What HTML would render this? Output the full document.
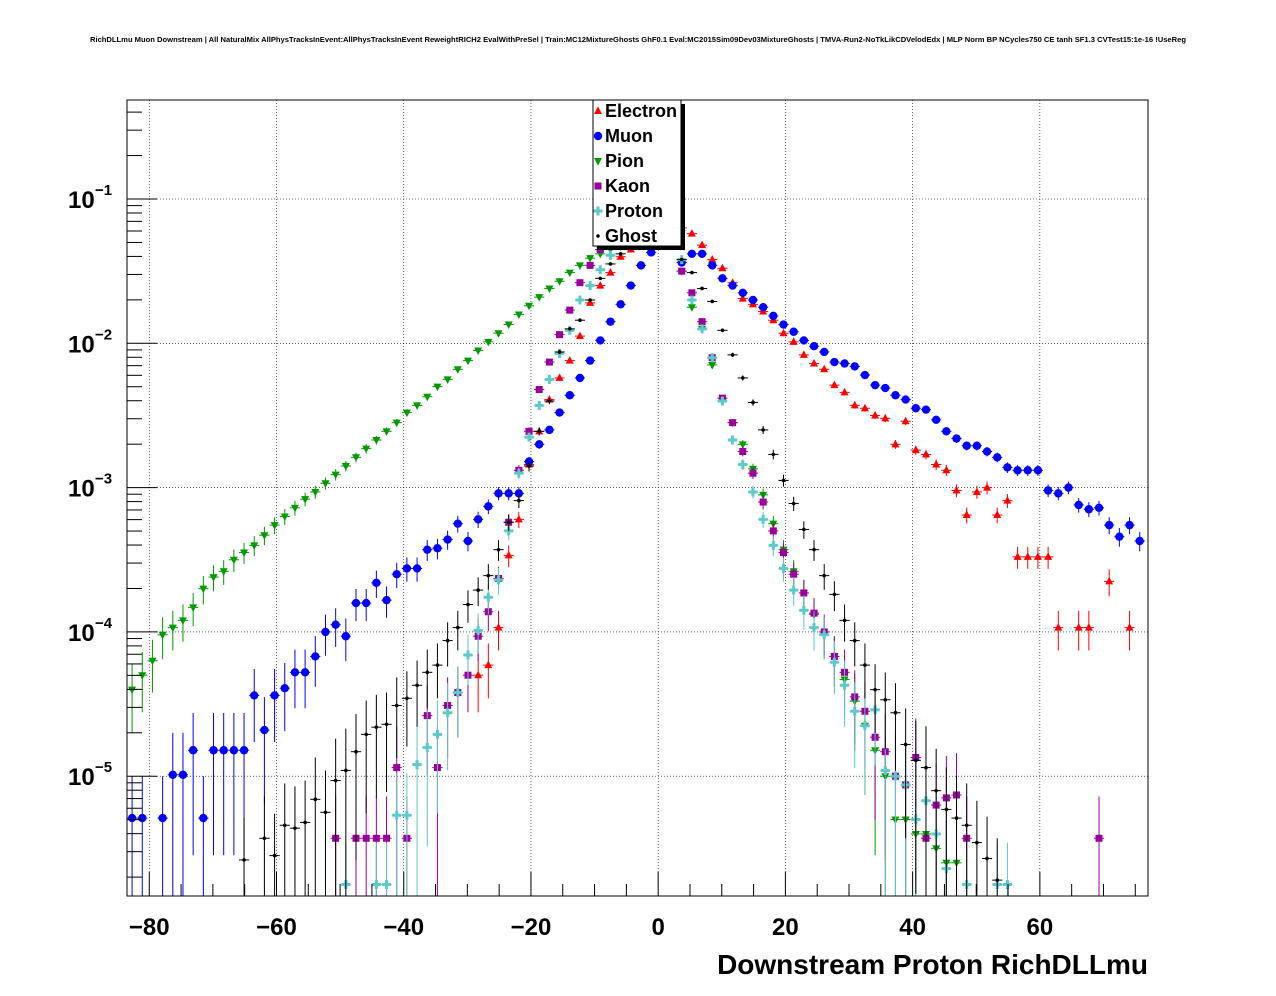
<!DOCTYPE html>
<html><head><meta charset="utf-8">
<style>
html,body{margin:0;padding:0;background:#fff;}
svg{display:block;font-family:"Liberation Sans",sans-serif;}
</style></head>
<body>
<svg id="chart" width="1276" height="996" viewBox="0 0 1276 996" xmlns="http://www.w3.org/2000/svg">
<rect width="1276" height="996" fill="#fff"/>
<text x="638" y="42" font-size="7.6" font-weight="bold" text-anchor="middle">RichDLLmu Muon Downstream | All NaturalMix AllPhysTracksInEvent:AllPhysTracksInEvent ReweightRICH2 EvalWithPreSel | Train:MC12MixtureGhosts GhF0.1 Eval:MC2015Sim09Dev03MixtureGhosts | TMVA-Run2-NoTkLikCDVelodEdx | MLP Norm BP NCycles750 CE tanh SF1.3 CVTest15:1e-16 !UseReg</text>
<g id="grid"></g>
<g id="series"></g>
<rect x="127" y="100" width="1021" height="796" fill="none" stroke="#000" stroke-width="1"/>
<g id="axes"></g>
<text x="1148" y="974" font-size="28" font-weight="bold" text-anchor="end">Downstream Proton RichDLLmu</text>
<g id="legend"></g>
</svg>
<script>
// bin centers (DLL units)
const binCount = 100;
const binStart = -82.7, binWidth = 1.6;
const xTicks = [-80, -60, -40, -20, 0, 20, 40, 60];
const xTickLabels = ["\u221280", "\u221260", "\u221240", "\u221220", "0", "20", "40", "60"];
const yDecades = [-1, -2, -3, -4, -5];
const yTickLabels = ["10", "10", "10", "10", "10"];
const yTickExps = ["\u22121", "\u22122", "\u22123", "\u22124", "\u22125"];
const seriesNames = ["Electron", "Muon", "Pion", "Kaon", "Proton", "Ghost"];
const N = null;
// log10 of normalized entries per bin (null = empty)
const electronLog = [N,N,N,N,N,N,N,N,N,N, N,N,N,N,N,N,N,N,N,N, N,N,N,N,N,N,N,N,N,N, N,N,N,N,-4.3,-4.23,-3.97,-3.47,-3.22,-2.84,
 -2.61,-2.39,-2.24,-2.12,-1.95,-1.72,-1.6,-1.51,-1.4,-1.35, -1.3,-1.25,-1.2,-1.15,-1.2,-1.24,-1.32,-1.42,-1.48,-1.58,
 -1.69,-1.73,-1.78,-1.84,-1.93,-1.99,-2.08,-2.14,-2.18,-2.29, -2.34,-2.43,-2.45,-2.5,-2.52,-2.7,-2.54,-2.74,-2.77,-2.84,
 -2.88,-3.02,-3.19,-3.03,-3.0,-3.19,-3.09,-3.48,-3.48,-3.48, -3.48,-3.97,N,-3.97,-3.97,N,-3.65,N,-3.97,N];
const muonLog = [-5.29,-5.29,N,-5.29,-4.99,-4.99,-4.82,-5.29,-4.82,-4.82, -4.82,-4.82,-4.44,-4.68,-4.44,-4.39,-4.28,-4.28,-4.17,-4.0,
 -3.95,-4.03,-3.8,-3.8,-3.66,-3.78,-3.6,-3.56,-3.56,-3.43, -3.42,-3.36,-3.25,-3.37,-3.22,-3.13,-3.04,-3.04,-3.04,-2.82,
 -2.7,-2.6,-2.48,-2.36,-2.24,-2.12,-1.98,-1.85,-1.73,-1.6, -1.46,-1.37,-1.3,-1.3,-1.44,-1.38,-1.38,-1.46,-1.55,-1.6,
 -1.65,-1.7,-1.75,-1.81,-1.87,-1.92,-1.98,-2.02,-2.06,-2.13, -2.14,-2.16,-2.22,-2.29,-2.31,-2.36,-2.39,-2.45,-2.46,-2.53,
 -2.61,-2.66,-2.71,-2.71,-2.75,-2.79,-2.86,-2.88,-2.88,-2.88, -3.02,-3.04,-3.0,-3.12,-3.15,-3.14,-3.26,-3.34,-3.26,-3.37];
const pionLog = [-4.4,-4.3,-4.2,-4.02,-3.97,-3.92,-3.83,-3.7,-3.62,-3.58, -3.5,-3.45,-3.4,-3.33,-3.26,-3.2,-3.14,-3.08,-3.03,-2.97,
 -2.91,-2.85,-2.79,-2.73,-2.67,-2.61,-2.55,-2.48,-2.43,-2.37, -2.3,-2.25,-2.18,-2.12,-2.05,-1.99,-1.93,-1.87,-1.8,-1.74,
 -1.68,-1.62,-1.57,-1.51,-1.46,-1.41,-1.38,-1.35,-1.33,-1.32, -1.32,-1.3,-1.3,-1.32,-1.5,-1.75,-1.9,-2.15,-2.4,-2.55,
 -2.7,-2.87,-3.05,-3.25,-3.43,-3.58,-3.73,-3.88,-4.02,-4.17, -4.33,-4.48,-4.65,-4.82,-5.0,-5.3,-5.3,-5.4,-5.4,-5.5,
 -5.6,-5.6,N,N,N,N,N,N,N,N, N,N,N,N,N,N,N,N,N,N];
const kaonLog = [N,N,N,N,N,N,N,N,N,N, N,N,N,N,N,N,N,N,N,N, -5.43,N,-5.43,-5.43,-5.43,-5.43,-4.94,-5.43,N,-4.58,
 -4.94,-4.51,-4.42,-4.3,-4.03,-3.86,-3.63,-3.24,-2.88,-2.61, -2.32,-2.13,-1.94,-1.77,-1.58,-1.46,-1.35,-1.28,-1.25,-1.22,
 -1.2,-1.2,-1.22,-1.3,-1.5,-1.65,-1.85,-2.1,-2.38,-2.55, -2.75,-2.9,-3.1,-3.3,-3.45,-3.6,-3.73,-3.87,-4.0,-4.17,
 -4.28,-4.45,-4.55,-4.73,-4.83,-5.0,-5.06,-4.87,-5.43,-5.2, -5.15,-5.13,-5.43,N,N,N,N,N,N,N, N,N,N,N,N,-5.43,N,N,N,N];
const protonLog = [N,N,N,N,N,N,N,N,N,N, N,N,N,N,N,N,N,N,N,N, N,-5.75,N,N,-5.75,-5.75,-5.27,-5.27,-4.92,-4.8,
 -4.71,-4.56,-4.42,-4.16,-3.99,-3.76,-3.64,-3.3,-2.9,-2.65, -2.43,-2.25,-2.07,-1.91,-1.7,-1.6,-1.49,-1.39,-1.32,-1.28,
 -1.26,-1.25,-1.26,-1.3,-1.42,-1.7,-1.9,-2.1,-2.4,-2.67, -2.84,-3.03,-3.22,-3.4,-3.56,-3.71,-3.85,-3.97,-4.02,-4.21,
 -4.37,-4.55,-4.65,-4.54,-4.96,-5.0,-5.06,-5.3,-5.17,-5.4, -5.64,N,-5.75,N,N,-5.75,-5.75,N,N,N, N,N,N,N,N,N,N,N,N,N];
const ghostLog = [N,N,N,N,N,N,N,N,N,N, N,-5.58,N,-5.43,-5.55,-5.34,-5.36,-5.32,-5.16,-5.25,
 -5.03,-4.96,-4.83,-4.71,-4.66,-4.64,-4.51,-4.46,-4.37,-4.28, -4.23,-4.06,-3.97,-3.81,-3.71,-3.61,-3.43,-3.24,-3.09,-2.85,
 -2.61,-2.4,-2.06,-1.9,-1.84,-1.7,-1.55,-1.45,-1.38,-1.33, -1.3,-1.3,-1.3,-1.33,-1.42,-1.51,-1.62,-1.71,-1.91,-2.08,
 -2.24,-2.41,-2.6,-2.77,-2.95,-3.11,-3.29,-3.43,-3.61,-3.74, -3.92,-4.06,-4.23,-4.4,-4.47,-4.56,-4.78,-4.89,-4.94,-5.1,
 -5.23,-5.29,-5.34,-5.46,-5.57,-5.72,N,N,N,N, N,N,N,N,N,N,N,N,N,N];

const NS = "http://www.w3.org/2000/svg";
const X0 = 127, X1 = 1148, Y0 = 100, Y1 = 896;
const xMin = -83.5, xMax = 77.0;
const yLogMin = -5.83, yLogMax = -0.314;
const xScale = v => X0 + (v - xMin) / (xMax - xMin) * (X1 - X0);
const yScale = lg => Y1 - (lg - yLogMin) / (yLogMax - yLogMin) * (Y1 - Y0);
function mk(tag, attrs, parent) { const e = document.createElementNS(NS, tag); for (const k in attrs) e.setAttribute(k, attrs[k]); parent.appendChild(e); return e; }

const grid = document.getElementById('grid');
const axes = document.getElementById('axes');
xTicks.forEach((t, i) => {
  const x = xScale(t);
  const gl = mk('line', {x1: x, x2: x, y1: Y0, y2: Y1, stroke: '#000', 'stroke-width': 0.6, 'stroke-dasharray': '1,2'}, grid);
  
  
  const tk = mk('line', {x1: x, x2: x, y1: Y1, y2: Y1 - 24, stroke: '#000'}, axes);
  
  
  const lb = mk('text', {x: x, y: 935, 'font-size': 24, 'font-weight': 'bold', 'text-anchor': 'middle'}, axes);
  lb.textContent = xTickLabels[i];
  
  
});
for (let v = -80; v <= 75; v += 5) {
  if (v % 20 === 0) continue;
  const x = xScale(v);
  const tk = mk('line', {x1: x, x2: x, y1: Y1, y2: Y1 - 12, stroke: '#000'}, axes);
  
  
}
yDecades.forEach((d, i) => {
  const y = yScale(d);
  const gl = mk('line', {x1: X0, x2: X1, y1: y, y2: y, stroke: '#000', 'stroke-width': 0.6, 'stroke-dasharray': '1,2'}, grid);
  
  
  const tk = mk('line', {x1: X0, x2: X0 + 30, y1: y, y2: y, stroke: '#000'}, axes);
  
  
  const lb = mk('text', {x: 68, y: y + 9, 'font-size': 24, 'font-weight': 'bold'}, axes);
  lb.textContent = yTickLabels[i];
  
  
  const ex = mk('text', {x: 95, y: y - 4, 'font-size': 15, 'font-weight': 'bold'}, axes);
  ex.textContent = yTickExps[i];
  
  
});
for (let d = -6; d <= -1; d++) {
  for (let m = 2; m <= 9; m++) {
    const lg = d + Math.log10(m);
    if (lg < yLogMin || lg > yLogMax) continue;
    const y = yScale(lg);
    const tk = mk('line', {x1: X0, x2: X0 + 15, y1: y, y2: y, stroke: '#000'}, axes);
    
    
  }
}

const colors = ['#ff0000', '#0000ff', '#009900', '#990099', '#5fc8c8', '#000000'];
const allLogs = [electronLog, muonLog, pionLog, kaonLog, protonLog, ghostLog];
function marker(kind, x, y, c, parent) {
  let e;
  if (kind === 0) e = mk('polygon', {points: `${x},${y-4.5} ${x-4},${y+3} ${x+4},${y+3}`, fill: c}, parent);
  else if (kind === 1) e = mk('circle', {cx: x, cy: y, r: 4.2, fill: c}, parent);
  else if (kind === 2) e = mk('polygon', {points: `${x},${y+4.5} ${x-4},${y-3} ${x+4},${y-3}`, fill: c}, parent);
  else if (kind === 3) e = mk('rect', {x: x - 3.5, y: y - 3.5, width: 7, height: 7, fill: c}, parent);
  else if (kind === 4) e = mk('path', {d: `M${x-1.5},${y-4.5}h3v3h3v3h-3v3h-3v-3h-3v-3h3z`, fill: c}, parent);
  else e = mk('circle', {cx: x, cy: y, r: 1.8, fill: c}, parent);
  return e;
}
const sl = document.getElementById('series');
allLogs.forEach((arr, s) => {
  const g = mk('g', {}, sl);
  
  
  arr.forEach((lg, i) => {
    if (lg === null) return;
    const xc = binStart + binWidth * i;
    const x = xScale(xc), y = yScale(lg);
    const c = colors[s];
    const rel = Math.min(0.95, 0.01 * Math.pow(10, (-lg - 1) * 0.5));
    const yu = yScale(Math.min(yLogMax, lg + Math.log10(1 + rel)));
    const yd = yScale(Math.max(yLogMin, lg + Math.log10(1 - rel)));
    const eb = mk('line', {x1: x, x2: x, y1: yu, y2: yd, stroke: c, 'stroke-width': 1}, g);
    
    
    const hb = mk('line', {x1: xScale(xc - binWidth / 2), x2: xScale(xc + binWidth / 2), y1: y, y2: y, stroke: c, 'stroke-width': 1}, g);
    
    
    const m = marker(s, x, y, c, g);
    
    
  });
});

const lg = document.getElementById('legend');
const sh = mk('rect', {x: 597, y: 104, width: 88, height: 146, fill: '#000'}, lg);


const bx = mk('rect', {x: 593, y: 100, width: 88, height: 146, fill: '#fff', stroke: '#000', 'stroke-width': 1}, lg);


seriesNames.forEach((n, i) => {
  const y = 111 + i * 25;
  const m = marker(i, 598, y, colors[i], lg);
  
  
  const t = mk('text', {x: 605, y: y + 6, 'font-size': 18, 'font-weight': 'bold'}, lg);
  t.textContent = n;
  
  
});
</script>
</body></html>
